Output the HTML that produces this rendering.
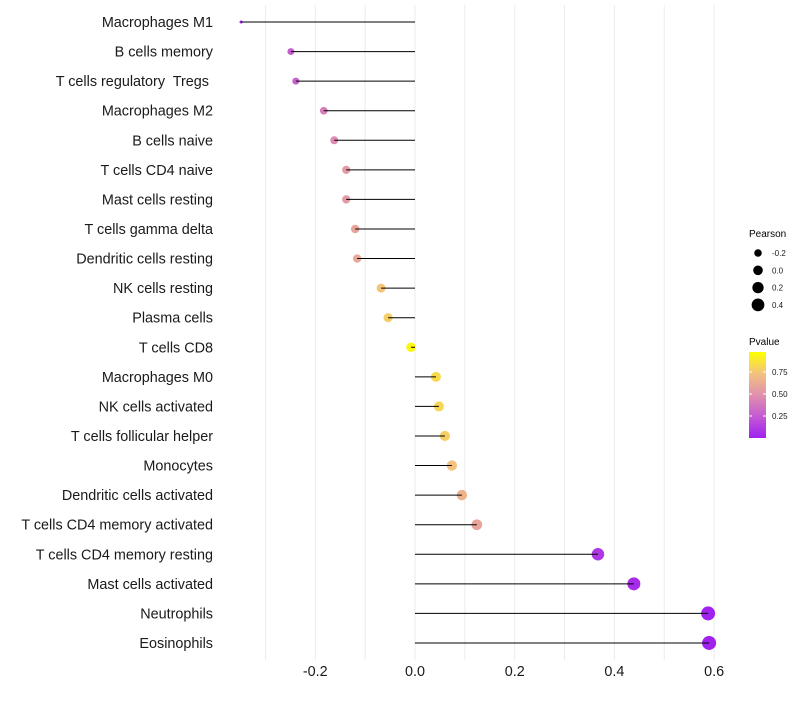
<!DOCTYPE html>
<html><head><meta charset="utf-8"><style>
body{margin:0;background:#fff;font-family:"Liberation Sans",sans-serif}
svg text{font-family:"Liberation Sans",sans-serif;white-space:pre}
</style></head><body>
<svg id="chart" width="800" height="700" xmlns="http://www.w3.org/2000/svg">
<g id="grid"></g>
<g id="ylabels"></g>
<g id="marks"></g>
<g id="stems"></g>
<g id="xlabels"></g>
<g>
<text x="749" y="237" font-size="10" fill="#000">Pearson</text>
<g id="sizeLegend"></g>
</g>
<g>
<text x="749" y="345" font-size="10" fill="#000">Pvalue</text>
<defs><linearGradient id="pg" x1="0" y1="1" x2="0" y2="0">
<stop offset="0" stop-color="#a020f0"/><stop offset="0.25" stop-color="#c45ad2"/><stop offset="0.5" stop-color="#e190ae"/><stop offset="0.75" stop-color="#f2c27e"/><stop offset="1" stop-color="#ffff00"/></linearGradient></defs>
<rect x="749" y="352" width="17" height="86" fill="url(#pg)"/>
<g id="colorTicks"></g>
</g>
</svg>
<script>
const categories=["Macrophages M1","B cells memory","T cells regulatory\u00a0 Tregs\u00a0","Macrophages M2","B cells naive","T cells CD4 naive","Mast cells resting","T cells gamma delta","Dendritic cells resting","NK cells resting","Plasma cells","T cells CD8","Macrophages M0","NK cells activated","T cells follicular helper","Monocytes","Dendritic cells activated","T cells CD4 memory activated","T cells CD4 memory resting","Mast cells activated","Neutrophils","Eosinophils"];
const pearson=[-0.349,-0.249,-0.239,-0.183,-0.162,-0.138,-0.138,-0.120,-0.116,-0.068,-0.054,-0.008,0.042,0.048,0.060,0.074,0.094,0.124,0.367,0.439,0.588,0.590];
const pvalue=[0.01,0.27,0.29,0.42,0.47,0.55,0.55,0.6,0.62,0.76,0.8,0.97,0.85,0.83,0.8,0.75,0.68,0.6,0.1,0.05,0.01,0.01];
const xTicks=[-0.2,0.0,0.2,0.4,0.6];
const xTickLabels=["-0.2","0.0","0.2","0.4","0.6"];
const sizeBreaks=[-0.2,0.0,0.2,0.4];
const colorBreaks=[0.25,0.5,0.75];
const NS="http://www.w3.org/2000/svg";
const x=v=>415+v*498.5;
const y=i=>22+i*29.57;
const vmin=Math.min(...pearson);
const r=v=>v<=vmin?1.5:Math.sqrt(Math.max(2.25,23+44*v));
const stops=[[0,[160,32,240]],[0.25,[196,90,210]],[0.5,[225,144,174]],[0.75,[242,194,126]],[1,[255,255,0]]];
function col(p){for(let k=1;k<stops.length;k++){if(p<=stops[k][0]){const a=stops[k-1],b=stops[k],t=(p-a[0])/(b[0]-a[0]);return 'rgb('+a[1].map((c,j)=>Math.round(c+(b[1][j]-c)*t)).join(',')+')';}}return 'rgb(255,255,0)';}
function mk(tag,attrs,parent){const e=document.createElementNS(NS,tag);for(const k in attrs)e.setAttribute(k,attrs[k]);parent.appendChild(e);return e;}
const grid=document.getElementById('grid');
for(let v=-0.3;v<=0.61;v+=0.1){const g=mk('line',{x1:x(v),x2:x(v),y1:5,y2:660,stroke:'#ebebeb','stroke-width':1},grid);

}
const yl=document.getElementById('ylabels'),mg=document.getElementById('marks'),sg=document.getElementById('stems');
categories.forEach((c,i)=>{
const t=mk('text',{x:213,y:y(i)+5,'text-anchor':'end','font-size':14.4,fill:'#1a1a1a'},yl);t.textContent=c;


const d=mk('circle',{cx:x(pearson[i]),cy:y(i),r:r(pearson[i]),fill:col(pvalue[i])},mg);


const l=mk('line',{x1:x(0),x2:x(pearson[i]),y1:y(i),y2:y(i),stroke:'#000','stroke-width':1},sg);


});
const xl=document.getElementById('xlabels');
xTicks.forEach((v,i)=>{const t=mk('text',{x:x(v),y:676,'text-anchor':'middle','font-size':14.4,fill:'#1a1a1a'},xl);t.textContent=xTickLabels[i];

});
const sl=document.getElementById('sizeLegend');
sizeBreaks.forEach((v,i)=>{const cy=253+i*17.3;
const c=mk('circle',{cx:758,cy:cy,r:r(v),fill:'#000'},sl);


const t=mk('text',{x:772,y:cy+3,'font-size':8,fill:'#1a1a1a'},sl);t.textContent=v.toFixed(1);

});
const ct=document.getElementById('colorTicks');
colorBreaks.forEach(p=>{const cy=438-p*88;
mk('line',{x1:749,x2:752,y1:cy,y2:cy,stroke:'#fff','stroke-width':1},ct);
mk('line',{x1:763,x2:766,y1:cy,y2:cy,stroke:'#fff','stroke-width':1},ct);
const t=mk('text',{x:772,y:cy+3,'font-size':8,fill:'#1a1a1a'},ct);t.textContent=p.toFixed(2);

});
</script>
</body></html>
